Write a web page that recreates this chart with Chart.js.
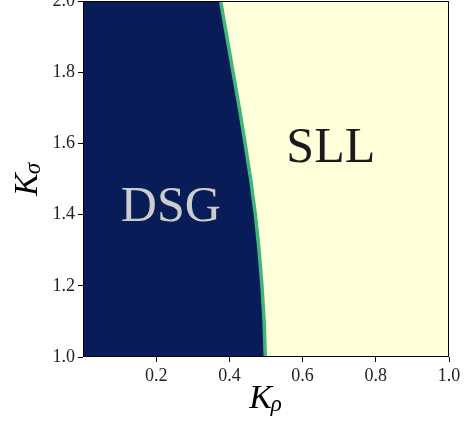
<!DOCTYPE html>
<html>
<head>
<meta charset="utf-8">
<script src="https://cdn.jsdelivr.net/npm/chart.js@4"></script>
<style>
html,body{margin:0;padding:0;background:#fff;}
#wrap{width:472px;height:421px;}
</style>
</head>
<body>
<div id="wrap"><canvas id="c" width="472" height="421"></canvas></div>
<script>
// Phase boundary: K_rho as a function of K_sigma
const sigmaValues = [1.0, 1.1, 1.2, 1.3, 1.4, 1.5, 1.6, 1.7, 1.8, 1.9, 2.0];
const rhoBoundary = [0.498, 0.495, 0.489, 0.481, 0.471, 0.458, 0.443, 0.427, 0.410, 0.393, 0.376];
const xTicks = [0.2, 0.4, 0.6, 0.8, 1.0];
const yTicks = [1.0, 1.2, 1.4, 1.6, 1.8, 2.0];
const xRange = [0.0, 1.0];
const yRange = [1.0, 2.0];
const phaseLabels = [
  {text: 'DSG', x: 0.24, y: 1.42, color: '#cccccc'},
  {text: 'SLL', x: 0.677, y: 1.585, color: '#1a1a1a'}
];

const boundaryPts = sigmaValues.map((s, i) => ({x: rhoBoundary[i], y: s}));
const dsgPolygon = [{x: xRange[0], y: yRange[0]}]
  .concat(boundaryPts)
  .concat([{x: xRange[0], y: yRange[1]}, {x: xRange[0], y: yRange[0]}]);

const SERIF = '"Liberation Serif", "DejaVu Serif", serif';

const bgPlugin = {
  id: 'bg',
  beforeDatasetsDraw(chart) {
    const {ctx, chartArea: a} = chart;
    ctx.save();
    ctx.fillStyle = '#ffffd9';
    ctx.fillRect(a.left, a.top, a.right - a.left, a.bottom - a.top);
    ctx.restore();
  },
  afterDatasetsDraw(chart) {
    const {ctx, chartArea: a, scales} = chart;
    ctx.save();
    // phase labels
    ctx.font = '50px ' + SERIF;
    ctx.textAlign = 'center';
    ctx.textBaseline = 'middle';
    phaseLabels.forEach(l => {
      ctx.fillStyle = l.color;
      ctx.fillText(l.text, scales.x.getPixelForValue(l.x), scales.y.getPixelForValue(l.y));
    });
    // frame
    ctx.strokeStyle = '#000';
    ctx.lineWidth = 1;
    ctx.strokeRect(Math.round(a.left) + 0.5, Math.round(a.top) + 0.5, Math.round(a.right - a.left) - 1, Math.round(a.bottom - a.top) - 1);
    // x title K_rho
    const cx = (a.left + a.right) / 2;
    ctx.fillStyle = '#000';
    ctx.textAlign = 'left';
    ctx.textBaseline = 'alphabetic';
    ctx.font = 'italic 34px ' + SERIF;
    const kw = ctx.measureText('K').width;
    ctx.font = 'italic 23px ' + SERIF;
    const rw = ctx.measureText('ρ').width;
    const startX = cx - (kw + rw) / 2;
    ctx.font = 'italic 34px ' + SERIF;
    ctx.fillText('K', startX, 408);
    ctx.font = 'italic 23px ' + SERIF;
    ctx.fillText('ρ', startX + kw - 1, 411);
    // y title K_sigma
    const cy = (a.top + a.bottom) / 2;
    ctx.translate(37, cy);
    ctx.rotate(-Math.PI / 2);
    ctx.font = 'italic 34px ' + SERIF;
    const kw2 = ctx.measureText('K').width;
    ctx.font = 'italic 23px ' + SERIF;
    const sw = ctx.measureText('σ').width;
    const sx = -(kw2 + sw) / 2;
    ctx.font = 'italic 34px ' + SERIF;
    ctx.fillText('K', sx, 0);
    ctx.font = 'italic 23px ' + SERIF;
    ctx.fillText('σ', sx + kw2 - 1, 3);
    ctx.restore();
  }
};

new Chart(document.getElementById('c'), {
  type: 'scatter',
  data: {
    datasets: [
      {
        data: dsgPolygon,
        showLine: true,
        fill: 'shape',
        backgroundColor: '#081d58',
        borderColor: '#081d58',
        borderWidth: 0,
        pointRadius: 0,
        tension: 0,
        order: 2
      },
      {
        data: boundaryPts,
        showLine: true,
        fill: false,
        borderColor: '#41b67c',
        borderWidth: 3.5,
        pointRadius: 0,
        tension: 0,
        order: 1
      }
    ]
  },
  plugins: [bgPlugin],
  options: {
    responsive: false,
    animation: false,
    layout: {padding: {top: 1, right: 23, left: 0, bottom: 0}},
    plugins: {legend: {display: false}, tooltip: {enabled: false}},
    scales: {
      x: {
        type: 'linear',
        min: xRange[0], max: xRange[1],
        afterBuildTicks(s) { s.ticks = xTicks.map(v => ({value: v})); },
        afterFit(s) { s.height = 64; s.paddingLeft = 0; s.paddingRight = 0; },
        grid: {drawOnChartArea: false, drawTicks: true, tickLength: 5, tickColor: '#000', tickWidth: 1},
        border: {display: false},
        ticks: {
          color: '#222',
          font: {family: SERIF, size: 18},
          padding: 3,
          maxRotation: 0,
          callback: v => Number(v).toFixed(1)
        }
      },
      y: {
        type: 'linear',
        min: yRange[0], max: yRange[1],
        afterBuildTicks(s) { s.ticks = yTicks.map(v => ({value: v})); },
        afterFit(s) { s.width = 83; s.paddingTop = 0; s.paddingBottom = 0; },
        grid: {drawOnChartArea: false, drawTicks: true, tickLength: 5, tickColor: '#000', tickWidth: 1},
        border: {display: false},
        ticks: {
          color: '#222',
          font: {family: SERIF, size: 18},
          padding: 3,
          callback: v => Number(v).toFixed(1)
        }
      }
    }
  }
});
</script>
</body>
</html>
